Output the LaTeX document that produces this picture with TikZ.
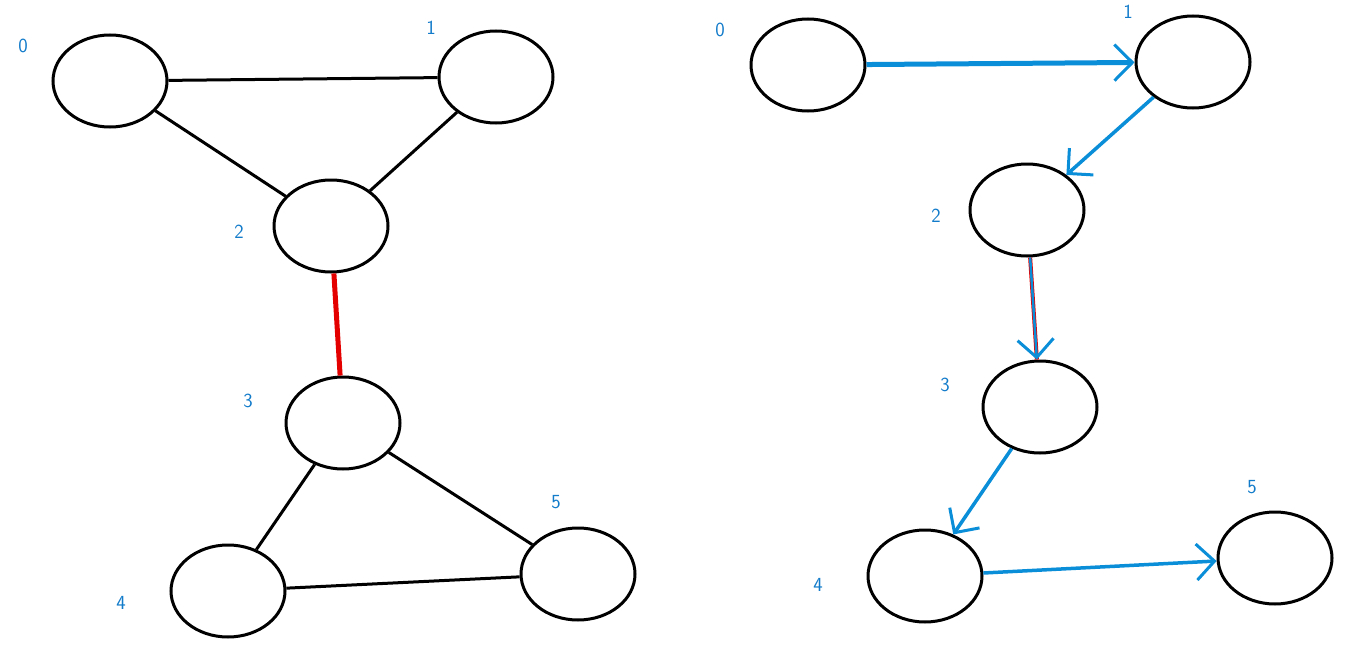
\documentclass[tikz,border=0pt]{standalone}
\usetikzlibrary{shapes.geometric,arrows.meta}
\begin{document}
\begin{tikzpicture}[x=1pt,y=-1pt,
  v/.style={ellipse,draw,line width=3pt,minimum width=114pt,minimum height=92pt,inner sep=0pt},
  lab/.style={text=cyan!60!blue,font=\sffamily\fontsize{20}{24}\selectfont},
  e/.style={line width=3pt},
  b/.style={line width=3.5pt,color=cyan!75!blue,-{Straight Barb[length=18pt,width=36pt,line width=3pt]}}]
\useasboundingbox (0,0) rectangle (1363,645);
\node[v] (a0) at (110,81) {};
\node[v] (a1) at (496,77) {};
\node[v] (a2) at (331,226) {};
\node[v] (a3) at (343,423) {};
\node[v] (a4) at (228,591) {};
\node[v] (a5) at (578,574) {};
\node[lab] (la0) at (23,46) {0};
\node[lab] (la1) at (431,28) {1};
\node[lab] (la2) at (239,232) {2};
\node[lab] (la3) at (248,401) {3};
\node[lab] (la4) at (121,603) {4};
\node[lab] (la5) at (556,502) {5};
\draw[e] (a0) -- (a1);
\draw[e] (a0) -- (a2);
\draw[e] (a1) -- (a2);
\draw[e,red!90!black,line width=5pt] (a2) -- (a3);
\draw[e] (a3) -- (a4);
\draw[e] (a3) -- (a5);
\draw[e] (a4) -- (a5);
\node[v] (b0) at (808,65) {};
\node[v] (b1) at (1193,62) {};
\node[v] (b2) at (1027,210) {};
\node[v] (b3) at (1040,407) {};
\node[v] (b4) at (925,576) {};
\node[v] (b5) at (1275,558) {};
\node[lab] (lb0) at (720,30) {0};
\node[lab] (lb1) at (1128,12) {1};
\node[lab] (lb2) at (936,216) {2};
\node[lab] (lb3) at (945,385) {3};
\node[lab] (lb4) at (818,585) {4};
\node[lab] (lb5) at (1252,487) {5};
\draw[b,line width=5pt] (b0) -- (b1);
\draw[b] (b1) -- (b2);
\draw[red!90!black,line width=4pt] (b2) -- (b3);
\draw[b,line width=2.5pt] (b2) -- (b3);
\draw[b] (b3) -- (b4);
\draw[b] (b4) -- (b5);
\end{tikzpicture}
\end{document}
